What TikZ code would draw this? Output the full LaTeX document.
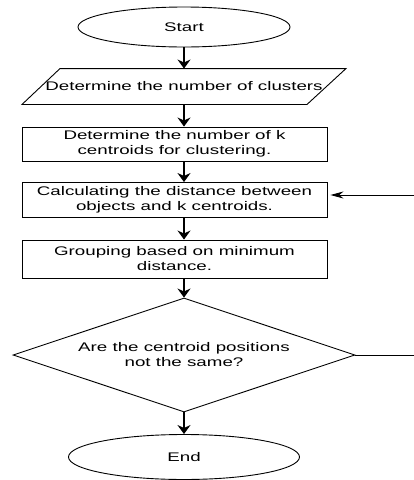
\documentclass[tikz,border=0pt]{standalone}
\usepackage{fontspec}
\newfontfamily\flowfont[FakeStretch=1.5]{Liberation Sans}
\usetikzlibrary{shapes.geometric,arrows.meta}

\tikzset{
	base/.style={draw,line width=0.9pt,inner sep=0pt,align=center,
		font=\flowfont\fontsize{12.5}{15}\selectfont},
	terminal/.style={base,ellipse},
	process/.style={base,rectangle,minimum width=305pt},
	decision/.style={base,diamond,shape aspect=3},
	flow/.style={line width=1.3pt,-{Stealth[width=13pt,length=9pt]}},
	back/.style={line width=0.9pt,-{Stealth[width=7pt,length=13pt]}}
}

\begin{document}
\begin{tikzpicture}[x=1pt,y=-1pt]
			\useasboundingbox (0,0) rectangle (414,480);
			\node [terminal,minimum width=212pt,minimum height=40pt] (start) at (184,27) {Start};
			\node [base,draw=none,minimum height=35pt] (clusters) at (184,86.5) {Determine the number of clusters};
			\draw [line width=0.9pt] ([xshift=-124pt]clusters.north) -- ([xshift=162pt]clusters.north)
				-- ([xshift=123pt]clusters.south) -- ([xshift=-162pt]clusters.south) -- cycle;
			\node [process,minimum height=34pt] (init) at (174.5,144) {Determine the number of k\\centroids for clustering.};
			\node [process,minimum height=35pt] (calc) at (174.5,200) {Calculating the distance between\\objects and k centroids.};
			\node [process,minimum height=38pt] (group) at (174.5,259) {Grouping based on minimum\\distance.};
			\node [decision,minimum width=342pt,minimum height=114pt] (same) at (184,355) {Are the centroid positions\\not the same?};
			\node [terminal,minimum width=231pt,minimum height=45pt] (end) at (184,457) {End};
			% loop back, its vertical part lies outside the frame
			\coordinate (loopbot) at (414,355);
			\coordinate (looptop) at (414,195);
			\draw [flow] (start.south) -- (clusters.north);
			\draw [flow] (clusters.south) -- (clusters.south |- init.north);
			\draw [flow] (clusters.south |- init.south) -- (clusters.south |- calc.north);
			\draw [flow] (clusters.south |- calc.south) -- (clusters.south |- group.north);
			\draw [flow] (clusters.south |- group.south) -- (same.north);
			\draw [flow] (same.south) -- (end.north);
			\draw [line width=0.9pt] (same.east) -- (loopbot);
			\draw [back] (looptop) -- ([xshift=3pt]looptop -| calc.east);
\end{tikzpicture}
\end{document}
